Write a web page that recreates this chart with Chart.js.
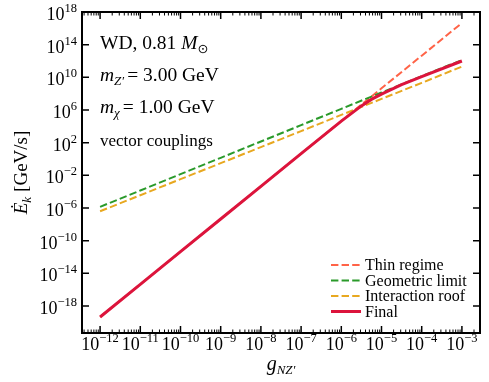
<!DOCTYPE html>
<html>
<head>
<meta charset="utf-8">
<script src="https://cdn.jsdelivr.net/npm/chart.js@4.4.1/dist/chart.umd.min.js"></script>
<style>
  html, body { margin: 0; padding: 0; background: #fff; }
  #wrap { width: 489px; height: 382px; }
</style>
</head>
<body>
<div id="wrap"><canvas id="chart" width="489" height="382"></canvas></div>
<script>
// coupling g_NZ' values (one per decade)
const gValues = [1e-12, 1e-11, 1e-10, 1e-9, 1e-8, 1e-7, 1e-6, 1e-5, 1e-4, 1e-3];
const thinRegime = [4.5e-20, 4.5e-16, 4.5e-12, 4.5e-8, 4.5e-4, 4.5, 4.5e4, 4.5e8, 4.5e12, 4.5e16];
const geometricLimit = [1.4e-6, 1.4e-4, 1.4e-2, 1.4, 140, 1.4e4, 1.4e6, 1.4e8, 1.4e10, 1.3e12];
const interactionRoof = [4e-7, 3.7e-5, 3.4e-3, 0.31, 29, 2.6e3, 2.5e5, 2.3e7, 2.1e9, 2.1e11];
// final curve, read with a few extra points around the bend
const gFinal = [1e-12, 1e-11, 1e-10, 1e-9, 1e-8, 1e-7, 1e-6, 3.16e-6, 5.6e-6, 1e-5, 3.16e-5, 1e-4, 1e-3];
const finalRate = [4.5e-20, 4.5e-16, 4.5e-12, 4.5e-8, 4.5e-4, 4.5, 4.3e4, 3.2e6, 2e7, 9e7, 1.25e9, 1.25e10, 1e12];

const xTickExps = [-12, -11, -10, -9, -8, -7, -6, -5, -4, -3];
const yTickExps = [18, 14, 10, 6, 2, -2, -6, -10, -14, -18];
const legendLabels = ['Thin regime', 'Geometric limit', 'Interaction roof', 'Final'];

const SERIF = '"Liberation Serif", "DejaVu Serif", serif';
const MINUS = '\u2212';

function pts(xs, ys) {
  return xs.map((x, i) => ({ x: x, y: ys[i] }));
}

function drawRuns(ctx, x, y, runs) {
  runs.forEach(r => {
    ctx.font = r.font;
    ctx.fillText(r.t, x, y + (r.dy || 0));
    x += ctx.measureText(r.t).width + (r.gap || 0);
  });
  return x;
}

function runsWidth(ctx, runs) {
  let w = 0;
  runs.forEach(r => {
    ctx.font = r.font;
    w += ctx.measureText(r.t).width + (r.gap || 0);
  });
  return w;
}

function powRuns(e) {
  const s = (e < 0 ? MINUS : '') + Math.abs(e);
  return [
    { t: '10', font: '18px ' + SERIF },
    { t: s, font: '12.5px ' + SERIF, dy: -8 }
  ];
}

const axesPlugin = {
  id: 'mplAxes',
  afterDatasetsDraw(chart) {
    const ctx = chart.ctx;
    const a = chart.chartArea;
    const xs = chart.scales.x;
    const ys = chart.scales.y;
    ctx.save();
    ctx.strokeStyle = '#000';
    ctx.fillStyle = '#000';

    // x ticks (major + minor), inward on top and bottom
    for (let n = -13; n <= -2; n++) {
      for (let m = 1; m <= 9; m++) {
        const v = m * Math.pow(10, n);
        const px = xs.getPixelForValue(v);
        if (px < a.left + 1 || px > a.right - 1) continue;
        const len = m === 1 ? 7 : 3.5;
        ctx.lineWidth = m === 1 ? 1.5 : 1;
        ctx.beginPath();
        ctx.moveTo(px, a.bottom); ctx.lineTo(px, a.bottom - len);
        ctx.moveTo(px, a.top); ctx.lineTo(px, a.top + len);
        ctx.stroke();
      }
    }
    // y ticks, inward on left and right
    ctx.lineWidth = 1.5;
    yTickExps.forEach(e => {
      const py = ys.getPixelForValue(Math.pow(10, e));
      ctx.beginPath();
      ctx.moveTo(a.left, py); ctx.lineTo(a.left + 7, py);
      ctx.moveTo(a.right, py); ctx.lineTo(a.right - 7, py);
      ctx.stroke();
    });

    // frame
    ctx.lineWidth = 2;
    ctx.strokeRect(a.left, a.top, a.right - a.left, a.bottom - a.top);

    // tick labels
    ctx.textBaseline = 'alphabetic';
    ctx.textAlign = 'left';
    xTickExps.forEach(e => {
      const px = xs.getPixelForValue(Math.pow(10, e));
      const runs = powRuns(e);
      const w = runsWidth(ctx, runs);
      drawRuns(ctx, px - w / 2, a.bottom + 17, runs);
    });
    yTickExps.forEach(e => {
      const py = ys.getPixelForValue(Math.pow(10, e));
      const runs = powRuns(e);
      const w = runsWidth(ctx, runs);
      drawRuns(ctx, a.left - 5 - w, py + 8, runs);
    });

    // axis titles
    const xt = [
      { t: 'g', font: 'italic 20px ' + SERIF },
      { t: 'NZ\u2032', font: 'italic 13px ' + SERIF, dy: 4 }
    ];
    drawRuns(ctx, (a.left + a.right) / 2 - runsWidth(ctx, xt) / 2, 370, xt);

    const yt = [
      { t: '\u0116', font: 'italic 19px ' + SERIF },
      { t: 'k', font: 'italic 13px ' + SERIF, dy: 4, gap: 5 },
      { t: '[GeV/s]', font: '19px ' + SERIF }
    ];
    ctx.save();
    ctx.translate(27, (a.top + a.bottom) / 2);
    ctx.rotate(-Math.PI / 2);
    drawRuns(ctx, -runsWidth(ctx, yt) / 2, 0, yt);
    ctx.restore();

    // annotations
    const big = '19.5px ' + SERIF;
    const it = 'italic 19.5px ' + SERIF;
    const sub = 'italic 13px ' + SERIF;
    drawRuns(ctx, 100, 49, [
      { t: 'WD, 0.81 ', font: big },
      { t: 'M', font: it },
      { t: '\u2299', font: '13px "DejaVu Sans", sans-serif', dy: 4 }
    ]);
    drawRuns(ctx, 100, 81, [
      { t: 'm', font: it },
      { t: 'Z\u2032', font: sub, dy: 4, gap: 3 },
      { t: '= 3.00 GeV', font: big }
    ]);
    drawRuns(ctx, 100, 113, [
      { t: 'm', font: it },
      { t: '\u03c7', font: sub, dy: 4, gap: 3 },
      { t: '= 1.00 GeV', font: big }
    ]);
    drawRuns(ctx, 100, 146, [{ t: 'vector couplings', font: '17px ' + SERIF }]);

    // legend
    chart.data.datasets.forEach((ds, i) => {
      const cy = 265 + i * 15.5;
      ctx.strokeStyle = ds.borderColor;
      ctx.lineWidth = ds.borderWidth;
      ctx.setLineDash(ds.borderDash || []);
      ctx.beginPath();
      ctx.moveTo(331, cy); ctx.lineTo(361, cy);
      ctx.stroke();
      ctx.setLineDash([]);
      ctx.fillStyle = '#000';
      ctx.font = '16px ' + SERIF;
      ctx.fillText(legendLabels[i], 365, cy + 5);
    });
    ctx.restore();
  }
};

new Chart(document.getElementById('chart'), {
  type: 'line',
  data: {
    datasets: [
      { label: legendLabels[0], data: pts(gValues, thinRegime), borderColor: '#ff6347', borderWidth: 2, borderDash: [7.4, 3.2], order: 4 },
      { label: legendLabels[1], data: pts(gValues, geometricLimit), borderColor: '#2a9a2a', borderWidth: 2, borderDash: [7.4, 3.2], order: 3 },
      { label: legendLabels[2], data: pts(gValues, interactionRoof), borderColor: '#e8a820', borderWidth: 2, borderDash: [7.4, 3.2], order: 2 },
      { label: legendLabels[3], data: pts(gFinal, finalRate), borderColor: '#dc143c', borderWidth: 3, order: 1 }
    ]
  },
  options: {
    responsive: false,
    animation: false,
    events: [],
    elements: { point: { radius: 0 }, line: { tension: 0, fill: false } },
    layout: { padding: { left: 0, right: 9, top: 12, bottom: 0 } },
    plugins: { legend: { display: false }, tooltip: { enabled: false } },
    scales: {
      x: {
        type: 'logarithmic',
        min: Math.pow(10, -12.45),
        max: Math.pow(10, -2.55),
        grid: { display: false },
        border: { display: false },
        ticks: { display: false },
        afterFit(scale) { scale.height = 49; }
      },
      y: {
        type: 'logarithmic',
        min: Math.pow(10, -21.3),
        max: 1e18,
        grid: { display: false },
        border: { display: false },
        ticks: { display: false },
        afterFit(scale) { scale.width = 82; }
      }
    }
  },
  plugins: [axesPlugin]
});
</script>
</body>
</html>
